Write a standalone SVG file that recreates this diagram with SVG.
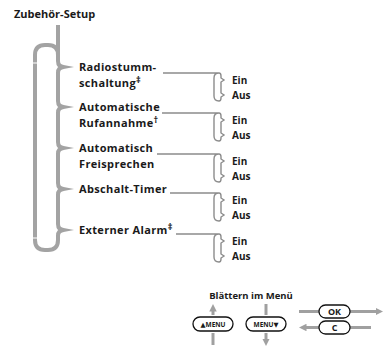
<svg xmlns="http://www.w3.org/2000/svg" width="385" height="349" viewBox="0 0 385 349">
<defs>
<style>
text{font-family:"Open Sans","Noto Sans","DejaVu Sans",sans-serif;font-weight:700;fill:#1a1a1a}
.title{font-size:11px}
.item{font-size:11px;letter-spacing:0.35px}
.sup{font-size:9px}
.opt{font-size:10px}
.big{fill:none;stroke:#a3a3a3;stroke-width:4}
.spk{fill:#a3a3a3}
.sub{fill:none;stroke:#8c8c8c;stroke-width:1.4}
.pill{fill:#fff;stroke:#111;stroke-width:1.3}
.nav{stroke:#a0a0a0;stroke-width:3;fill:none}
.btn{font-size:6.5px;text-anchor:middle}
.ok{font-size:9px;text-anchor:middle}
</style>
<marker id="ah" viewBox="0 0 10 10" refX="2" refY="5" markerWidth="2.5" markerHeight="2.5" orient="auto" markerUnits="strokeWidth">
<path d="M0,0 L10,5 L0,10 z" fill="#a0a0a0"/>
</marker>
</defs>

<g id="title"><text class="title" x="14" y="18">Zubehör-Setup</text></g>

<g id="connectors">
<path class="big" d="M58,25 V61 Q58,67 64,67 Q58,67 58,73 V101 Q58,107 64,107 Q58,107 58,113 V142 Q58,148 64,148 Q58,148 58,154 V183 Q58,189 64,189 Q58,189 58,195 V224 Q58,230 64,230 Q58,230 58,236 V240 Q58,250 48,250 H45 Q35,250 35,240 V55 Q35,45 45,45 H48 Q58,45 58,55"/>
<line x1="33" y1="63" x2="37" y2="63" stroke="#fff" stroke-width="1"/>
<line x1="33" y1="238" x2="37" y2="238" stroke="#fff" stroke-width="1"/>
<polygon class="spk" points="61,64.5 74,67 61,69.5"/>
<polygon class="spk" points="61,104.5 74,107 61,109.5"/>
<polygon class="spk" points="61,145.5 74,148 61,150.5"/>
<polygon class="spk" points="61,186.5 74,189 61,191.5"/>
<polygon class="spk" points="61,227.5 74,230 61,232.5"/>

<path class="sub" d="M163,73 H219 M219,73 Q214,73 214,78 V96 Q214,101 219,101 M219,73 Q221,73 221,76 V78 L224,80 L221,82 V93 L224,95 L221,97 V98 Q221,101 219,101"/>
<path class="sub" d="M162,113 H219 M219,113 Q214,113 214,118 V136 Q214,141 219,141 M219,113 Q221,113 221,116 V118 L224,120 L221,122 V133 L224,135 L221,137 V138 Q221,141 219,141"/>
<path class="sub" d="M157,154 H219 M219,154 Q214,154 214,159 V177 Q214,182 219,182 M219,154 Q221,154 221,157 V159 L224,161 L221,163 V174 L224,176 L221,178 V179 Q221,182 219,182"/>
<path class="sub" d="M170,193 H219 M219,193 Q214,193 214,198 V216 Q214,221 219,221 M219,193 Q221,193 221,196 V198 L224,200 L221,202 V213 L224,215 L221,217 V218 Q221,221 219,221"/>
<path class="sub" d="M176,234 H219 M219,234 Q214,234 214,239 V257 Q214,262 219,262 M219,234 Q221,234 221,237 V239 L224,241 L221,243 V254 L224,256 L221,258 V259 Q221,262 219,262"/>

<line class="nav" x1="213" y1="315" x2="213" y2="310" marker-end="url(#ah)"/>
<line class="nav" x1="213" y1="333" x2="213" y2="345"/>
<line class="nav" x1="266" y1="304" x2="266" y2="315"/>
<line class="nav" x1="266" y1="333" x2="266" y2="340" marker-end="url(#ah)"/>
<line class="nav" x1="299" y1="311.5" x2="319" y2="311.5"/>
<line class="nav" x1="350" y1="311.5" x2="377" y2="311.5" marker-end="url(#ah)"/>
<line class="nav" x1="319" y1="327.5" x2="305" y2="327.5" marker-end="url(#ah)"/>
<line class="nav" x1="350" y1="327.5" x2="371" y2="327.5"/>
</g>

<g id="n1"><text class="item" x="79" y="71">Radiostumm-</text><text class="item" x="79" y="86.5">schaltung<tspan class="sup" dy="-4">‡</tspan></text></g>
<g id="n2"><text class="item" x="79" y="111">Automatische</text><text class="item" x="79" y="126.5">Rufannahme<tspan class="sup" dy="-4">†</tspan></text></g>
<g id="n3"><text class="item" x="79" y="152">Automatisch</text><text class="item" x="79" y="167.5">Freisprechen</text></g>
<g id="n4"><text class="item" x="79" y="193">Abschalt-Timer</text></g>
<g id="n5"><text class="item" x="79" y="234">Externer Alarm<tspan class="sup" dy="-4">‡</tspan></text></g>

<g id="o1"><text class="opt" x="232" y="84">Ein</text><text class="opt" x="232" y="99">Aus</text></g>
<g id="o2"><text class="opt" x="232" y="124">Ein</text><text class="opt" x="232" y="139">Aus</text></g>
<g id="o3"><text class="opt" x="232" y="165">Ein</text><text class="opt" x="232" y="180">Aus</text></g>
<g id="o4"><text class="opt" x="232" y="204">Ein</text><text class="opt" x="232" y="219">Aus</text></g>
<g id="o5"><text class="opt" x="232" y="245">Ein</text><text class="opt" x="232" y="260">Aus</text></g>

<g id="nav-title"><text x="251" y="299" font-size="9.5" text-anchor="middle">Blättern im Menü</text></g>
<g id="btn-up"><rect class="pill" x="193" y="317" width="40" height="14" rx="7"/><text class="btn" x="213" y="326.5">▲MENU</text></g>
<g id="btn-down"><rect class="pill" x="246" y="317" width="40" height="14" rx="7"/><text class="btn" x="266" y="326.5">MENU▼</text></g>
<g id="btn-ok"><rect class="pill" x="319" y="305" width="31" height="13" rx="6.5"/><text class="ok" x="334.5" y="314.8">OK</text></g>
<g id="btn-c"><rect class="pill" x="319" y="321" width="31" height="13" rx="6.5"/><text class="ok" x="334.5" y="330.8">C</text></g>
</svg>
